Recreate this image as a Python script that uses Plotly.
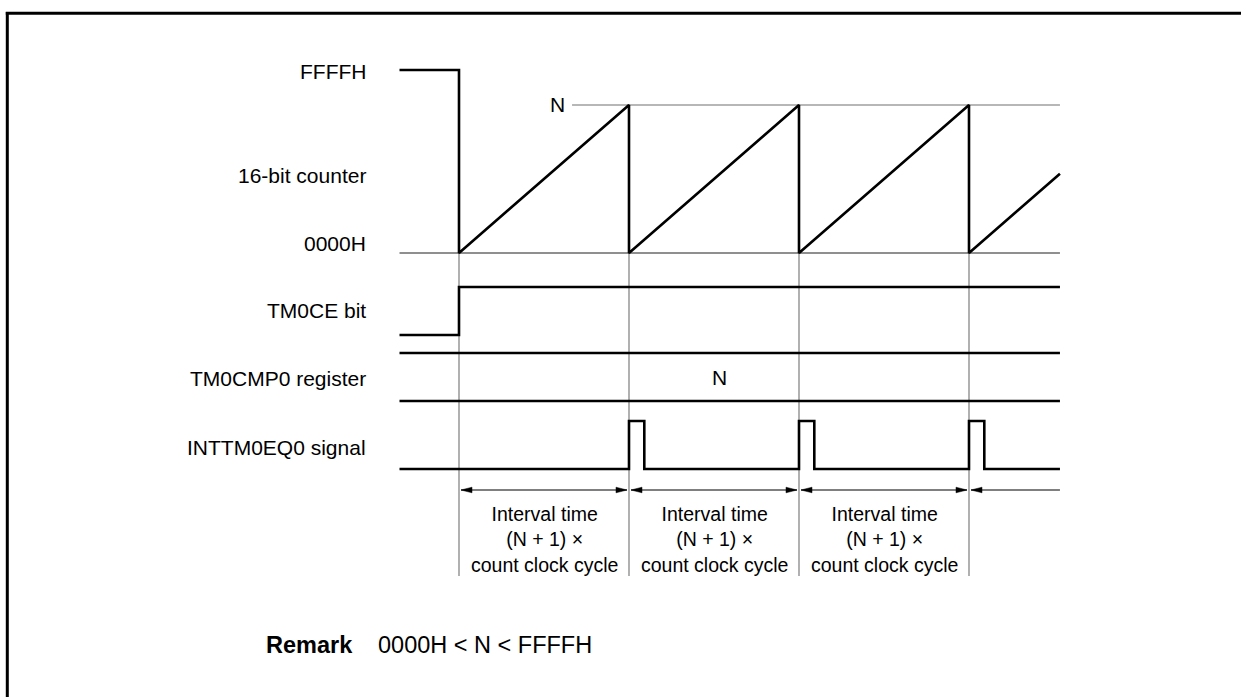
import plotly.graph_objects as go

# ---------------- data ----------------
# time axis in units of one interval ((N + 1) x count clock cycle); t = 0 when TM0CE is set
reset_times = [0, 1, 2, 3]          # counter cleared to 0000H
t_start = -0.35                     # left end of the waveforms
t_end = 3.535                       # right end of the waveforms
pulse_width = 0.09                  # INTTM0EQ0 pulse width
n_line_start = 0.665                # start of the N reference line
# counter values (normalized to N)
counter_zero = 0.0
counter_N = 1.0
counter_FFFF = 1.236
# logic levels
logic_low = 0
logic_high = 1
register_label_t = 1.53

row_labels = ["FFFFH", "16-bit counter", "0000H", "TM0CE bit", "TM0CMP0 register", "INTTM0EQ0 signal"]
interval_lines = ["Interval time", "(N + 1) \u00d7", "count clock cycle"]
register_value = "N"
peak_label = "N"
remark_label = "Remark"
remark_text = "0000H &lt; N &lt; FFFFH"

# ---------------- layout helpers ----------------
W, H = 1241, 697
PX_PER_T = 170.0
T0_PX = 459.0
FONT = "Liberation Sans, Arial, Helvetica, sans-serif"


def px_x(px):
    return px / W


def px_y(px):
    return 1 - px / H


def yax(px_lo, px_hi, v_lo, v_hi, pad=14):
    s = (v_hi - v_lo) / (px_lo - px_hi)
    return dict(domain=[px_y(px_lo + pad), px_y(px_hi - pad)],
                range=[v_lo - pad * s, v_hi + pad * s],
                visible=False, fixedrange=True, anchor="x")


fig = go.Figure()
BLACK = "#000000"
GRAY = "#707070"
LW = 2.6

# ---- 16-bit counter ----
cx = [t_start, reset_times[0], reset_times[0]]
cy = [counter_FFFF, counter_FFFF, counter_zero]
for prev, r in zip(reset_times[:-1], reset_times[1:]):
    cx += [r, r]
    cy += [counter_N * (r - prev), counter_zero]
cx.append(t_end)
cy.append(counter_N * (t_end - reset_times[-1]))

fig.add_trace(go.Scatter(x=[t_start, t_end], y=[counter_zero, counter_zero], mode="lines",
                         line=dict(color="#202020", width=1.1), yaxis="y", hoverinfo="skip"))
fig.add_trace(go.Scatter(x=[n_line_start, t_end], y=[counter_N, counter_N], mode="lines",
                         line=dict(color=GRAY, width=1.1), yaxis="y", hoverinfo="skip"))
fig.add_trace(go.Scatter(x=cx, y=cy, mode="lines", line=dict(color=BLACK, width=LW),
                         yaxis="y", hoverinfo="skip"))

# ---- TM0CE bit ----
fig.add_trace(go.Scatter(x=[t_start, reset_times[0], reset_times[0], t_end],
                         y=[logic_low, logic_low, logic_high, logic_high], mode="lines",
                         line=dict(color=BLACK, width=LW), yaxis="y2", hoverinfo="skip"))

# ---- TM0CMP0 register ----
for lvl in (logic_low, logic_high):
    fig.add_trace(go.Scatter(x=[t_start, t_end], y=[lvl, lvl], mode="lines",
                             line=dict(color=BLACK, width=LW), yaxis="y3", hoverinfo="skip"))

# ---- INTTM0EQ0 signal ----
ix, iy = [t_start], [logic_low]
for r in reset_times[1:]:
    ix += [r, r, r + pulse_width, r + pulse_width]
    iy += [logic_low, logic_high, logic_high, logic_low]
ix.append(t_end)
iy.append(logic_low)
fig.add_trace(go.Scatter(x=ix, y=iy, mode="lines", line=dict(color=BLACK, width=LW),
                         yaxis="y4", hoverinfo="skip"))

# ---- interval arrows ----
gap = 2.0 / PX_PER_T
head_len = 11.0 / PX_PER_T
head_half = 2.8
bounds = reset_times + [t_end]
for i, (a, b) in enumerate(zip(bounds[:-1], bounds[1:])):
    last = i == len(bounds) - 2
    x_right = b if last else b - gap
    fig.add_trace(go.Scatter(x=[a + gap, x_right], y=[0, 0], mode="lines",
                             line=dict(color=BLACK, width=1.1), yaxis="y5", hoverinfo="skip"))
    # left head
    tip = a + gap
    fig.add_trace(go.Scatter(x=[tip, tip + head_len, tip + head_len, tip], y=[0, head_half, -head_half, 0],
                             mode="lines", fill="toself", fillcolor=BLACK,
                             line=dict(color=BLACK, width=0.5), yaxis="y5", hoverinfo="skip"))
    if not last:
        tip = b - gap
        fig.add_trace(go.Scatter(x=[tip, tip - head_len, tip - head_len, tip], y=[0, head_half, -head_half, 0],
                                 mode="lines", fill="toself", fillcolor=BLACK,
                                 line=dict(color=BLACK, width=0.5), yaxis="y5", hoverinfo="skip"))

# ---- vertical guide lines ----
shapes = []
for r in reset_times:
    top = 253 if r == reset_times[0] else 105
    shapes.append(dict(type="line", xref="x", yref="paper", x0=r, x1=r,
                       y0=px_y(576), y1=px_y(top), line=dict(color=GRAY, width=1.1), layer="below"))
# frame (left and top)
shapes.append(dict(type="line", xref="paper", yref="paper", x0=px_x(7.3), x1=px_x(7.3),
                   y0=0, y1=px_y(11.9), line=dict(color=BLACK, width=3)))
shapes.append(dict(type="line", xref="paper", yref="paper", x0=px_x(5.8), x1=1,
                   y0=px_y(13.3), y1=px_y(13.3), line=dict(color=BLACK, width=3)))

# ---- annotations ----
ann = []
label_y = [72, 175, 243, 310, 379, 447]
for txt, yy in zip(row_labels, label_y):
    ann.append(dict(text=txt, xref="paper", yref="paper", x=px_x(368), y=px_y(yy),
                    xanchor="right", yanchor="middle", showarrow=False,
                    font=dict(size=21, color=BLACK, family=FONT)))
ann.append(dict(text=peak_label, xref="paper", yref="y", x=px_x(567), y=counter_N,
                xanchor="right", yanchor="middle", showarrow=False,
                font=dict(size=21, color=BLACK, family=FONT)))
ann.append(dict(text=register_value, xref="x", yref="y3", x=register_label_t, y=0.5,
                xanchor="center", yanchor="middle", showarrow=False,
                font=dict(size=21, color=BLACK, family=FONT)))
for a, b in zip(reset_times[:-1], reset_times[1:]):
    ann.append(dict(text="<br>".join(interval_lines), xref="x", yref="paper", x=(a + b) / 2,
                    y=px_y(539), xanchor="center", yanchor="middle", showarrow=False, align="center",
                    font=dict(size=19.5, color=BLACK, family=FONT)))
ann.append(dict(text="<b>" + remark_label + "</b>", xref="paper", yref="paper", x=px_x(264), y=px_y(645),
                xanchor="left", yanchor="middle", showarrow=False,
                font=dict(size=23.5, color=BLACK, family=FONT)))
ann.append(dict(text=remark_text, xref="paper", yref="paper", x=px_x(376), y=px_y(645),
                xanchor="left", yanchor="middle", showarrow=False,
                font=dict(size=23.5, color=BLACK, family=FONT)))

fig.update_layout(
    width=W, height=H,
    margin=dict(l=0, r=0, t=0, b=0, pad=0),
    paper_bgcolor="white", plot_bgcolor="rgba(0,0,0,0)",
    showlegend=False,
    xaxis=dict(range=[-T0_PX / PX_PER_T, (W - T0_PX) / PX_PER_T], domain=[0, 1],
               visible=False, fixedrange=True),
    yaxis=yax(253, 70, counter_zero, counter_FFFF),
    yaxis2=yax(335, 287, logic_low, logic_high),
    yaxis3=yax(401, 353, logic_low, logic_high),
    yaxis4=yax(469, 421, logic_low, logic_high),
    yaxis5=dict(domain=[px_y(505), px_y(475)], range=[-15, 15], visible=False,
                fixedrange=True, anchor="x"),
    shapes=shapes,
    annotations=ann,
)

fig.write_html("out.html", config={"displayModeBar": False, "staticPlot": True},
               post_script="document.body.style.margin='0';document.body.style.overflow='hidden';")
